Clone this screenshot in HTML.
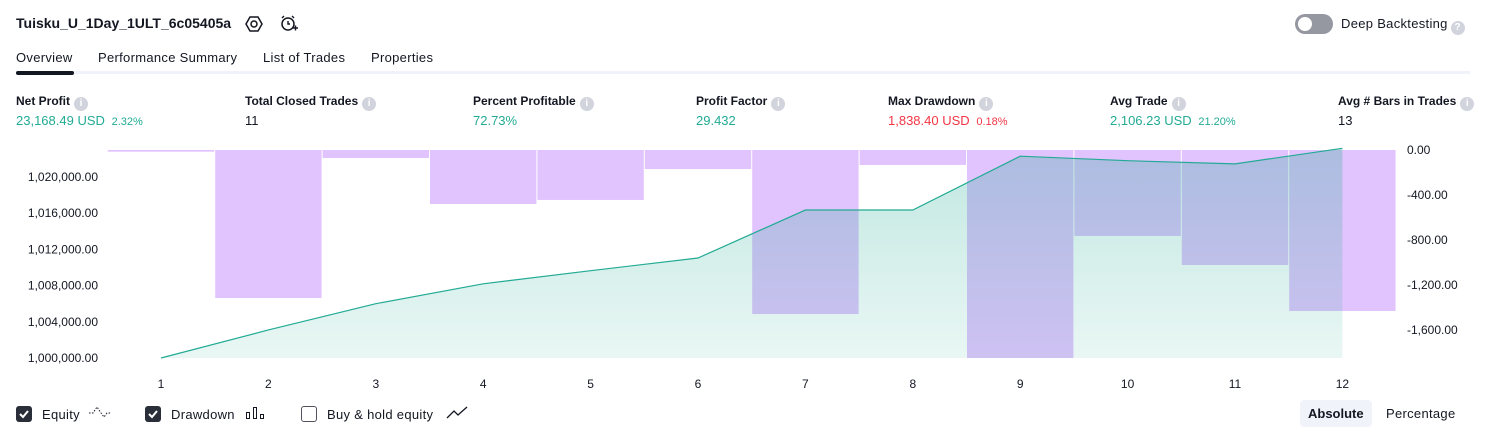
<!DOCTYPE html>
<html><head><meta charset="utf-8">
<style>
body{margin:0;width:1486px;height:438px;background:#fff;font-family:"Liberation Sans",sans-serif;color:#131722;position:relative;overflow:hidden}
.a{position:absolute;white-space:nowrap}
.t{font-size:13px;letter-spacing:0.3px}
.lab{font-size:12px;font-weight:bold;color:#131722}
.val{font-size:13px}
.g{color:#22ab94}.r{color:#f23645}
.small{font-size:11px}
.info{display:inline-block;width:14px;height:14px;border-radius:7px;background:#d1d4dc;color:#fff;font-size:10px;text-align:center;line-height:14px;vertical-align:-1px;margin-left:4px;font-weight:bold}
.cb{position:absolute;width:16px;height:16px;border-radius:3px;top:406px}
</style></head><body>
<div class="a" style="left:16px;top:15px;font-size:14px;font-weight:bold">Tuisku_U_1Day_1ULT_6c05405a</div>
<svg class="a" style="left:245px;top:15px" width="18" height="18"><polygon points="5,2 13,2 17,9 13,16 5,16 1,9" fill="none" stroke="#131722" stroke-width="1.5"/><circle cx="9" cy="9" r="3" fill="none" stroke="#131722" stroke-width="1.5"/></svg>
<svg class="a" style="left:279px;top:14px" width="20" height="20"><circle cx="9" cy="10" r="6" fill="none" stroke="#131722" stroke-width="1.5"/><path d="M9 7v3h2M3 4l2-2M15 4l-2-2M14 14h5M16.5 11.5v5" stroke="#131722" stroke-width="1.4" fill="none"/></svg>
<div class="a" style="left:1295px;top:14px;width:38px;height:20px;border-radius:10px;background:#9598a1"><div style="position:absolute;left:3px;top:3px;width:14px;height:14px;border-radius:7px;background:#fff"></div></div>
<div class="a t" style="left:1341px;top:16px">Deep Backtesting<span class="info" style="vertical-align:-2px;margin-left:3px">?</span></div>

<div class="a t" style="left:16px;top:50px">Overview</div>
<div class="a t" style="left:98px;top:50px">Performance Summary</div>
<div class="a t" style="left:263px;top:50px">List of Trades</div>
<div class="a t" style="left:371px;top:50px">Properties</div>
<div class="a" style="left:16px;top:71px;width:1454px;height:3px;background:#f0f3fa"></div>
<div class="a" style="left:16px;top:71px;width:58px;height:4px;border-radius:2px;background:#131722"></div>

<div class="a" style="left:16px;top:94px"><div class="lab">Net Profit<span class="info">i</span></div><div class="val g" style="margin-top:2px">23,168.49 USD <span class="small">&nbsp;2.32%</span></div></div>
<div class="a" style="left:245px;top:94px"><div class="lab">Total Closed Trades<span class="info">i</span></div><div class="val" style="margin-top:2px">11</div></div>
<div class="a" style="left:473px;top:94px"><div class="lab">Percent Profitable<span class="info">i</span></div><div class="val g" style="margin-top:2px">72.73%</div></div>
<div class="a" style="left:696px;top:94px"><div class="lab">Profit Factor<span class="info">i</span></div><div class="val g" style="margin-top:2px">29.432</div></div>
<div class="a" style="left:888px;top:94px"><div class="lab">Max Drawdown<span class="info">i</span></div><div class="val r" style="margin-top:2px">1,838.40 USD <span class="small">&nbsp;0.18%</span></div></div>
<div class="a" style="left:1110px;top:94px"><div class="lab">Avg Trade<span class="info">i</span></div><div class="val g" style="margin-top:2px">2,106.23 USD <span class="small">&nbsp;21.20%</span></div></div>
<div class="a" style="left:1338px;top:94px"><div class="lab">Avg # Bars in Trades<span class="info">i</span></div><div class="val" style="margin-top:2px">13</div></div>

<svg id="chart" class="a" style="left:0;top:0" width="1486" height="400"></svg>

<div class="cb" style="left:16px;background:#2a2e39"><svg width="16" height="16"><path d="M4 8l3 3 5-6" stroke="#fff" stroke-width="2" fill="none"/></svg></div>
<div class="a t" style="left:42px;top:407px">Equity</div>
<svg class="a" style="left:88px;top:404px" width="24" height="16"><path d="M1 9h4l4-6 4 6 3 4 3-4h4" stroke="#131722" stroke-dasharray="1.5 1.5" fill="none"/></svg>
<div class="cb" style="left:145px;background:#2a2e39"><svg width="16" height="16"><path d="M4 8l3 3 5-6" stroke="#fff" stroke-width="2" fill="none"/></svg></div>
<div class="a t" style="left:171px;top:407px">Drawdown</div>
<svg class="a" style="left:245px;top:405px" width="22" height="16"><rect x="1.5" y="7.5" width="3" height="6" fill="none" stroke="#131722"/><rect x="8.5" y="2.5" width="3" height="11" fill="none" stroke="#131722"/><rect x="15.5" y="9.5" width="3" height="4" fill="none" stroke="#131722"/></svg>
<div class="cb" style="left:301px;border:1.5px solid #50535e;width:14px;height:14px"></div>
<div class="a t" style="left:327px;top:407px">Buy &amp; hold equity</div>
<svg class="a" style="left:446px;top:404px" width="24" height="16"><path d="M1 14l7-7 4 4 9-8" stroke="#131722" stroke-width="1.3" fill="none"/></svg>
<div class="a t" style="left:1300px;top:400px;padding:6px 8px;background:#f0f3fa;border-radius:4px;font-weight:bold;letter-spacing:0">Absolute</div>
<div class="a t" style="left:1386px;top:406px">Percentage</div>

<script>
const categories=[1,2,3,4,5,6,7,8,9,10,11,12];
const equity=[1000000,1003100,1006000,1008200,1009650,1011050,1016350,1016350,1022300,1021800,1021450,1023168];
const drawdown=[-15,-1316,-71,-480,-444,-169,-1458,-133,-1849,-764,-1022,-1431];
const leftTicks=[1000000,1004000,1008000,1012000,1016000,1020000];
const rightTicks=[0,-400,-800,-1200,-1600];
const NS="http://www.w3.org/2000/svg";
const svg=document.getElementById('chart');
const x0=161,dx=107.4;
const xs=i=>x0+i*dx;
const yL=v=>358-(v-1000000)*(181/20000);
const yR=v=>150-v*(180/1600);
function el(t,a){const e=document.createElementNS(NS,t);for(const k in a)e.setAttribute(k,a[k]);svg.appendChild(e);return e;}
const defs=el('defs',{});
defs.innerHTML='<linearGradient id="ag" x1="0" y1="0" x2="0" y2="1"><stop offset="0" stop-color="#22ab94" stop-opacity="0.28"/><stop offset="1" stop-color="#22ab94" stop-opacity="0.1"/></linearGradient>';
drawdown.forEach((v,i)=>{
 const b=el('rect',{x:xs(i)-dx/2+0.5,y:150,width:dx-1,height:Math.max(1,yR(v)-150),fill:'#e1c4fd'});
 
 
});
let d='M'+xs(0)+' '+yL(equity[0]);
equity.forEach((v,i)=>{d+=' L'+xs(i)+' '+yL(v);});
const area=el('path',{d:d+' L'+xs(equity.length-1)+' 358 L'+xs(0)+' 358 Z',fill:'url(#ag)'});


const line=el('path',{d:d,fill:'none',stroke:'#22ab94','stroke-width':1.2});


leftTicks.forEach(v=>{
 const t=el('text',{x:98,y:yL(v)+4,'text-anchor':'end','font-size':12,fill:'#131722','font-family':'Liberation Sans, sans-serif'});
 t.textContent=v.toLocaleString('en-US',{minimumFractionDigits:2});
 
 
});
rightTicks.forEach(v=>{
 const t=el('text',{x:1407,y:yR(v)+4,'font-size':12,fill:'#131722','font-family':'Liberation Sans, sans-serif'});
 t.textContent=(v===0?'0.00':v.toLocaleString('en-US',{minimumFractionDigits:2}));
 
 
});
categories.forEach((c,i)=>{
 const t=el('text',{x:xs(i),y:388,'text-anchor':'middle','font-size':12,fill:'#131722','font-family':'Liberation Sans, sans-serif'});
 t.textContent=c;
 
 
});
</script>
</body></html>
